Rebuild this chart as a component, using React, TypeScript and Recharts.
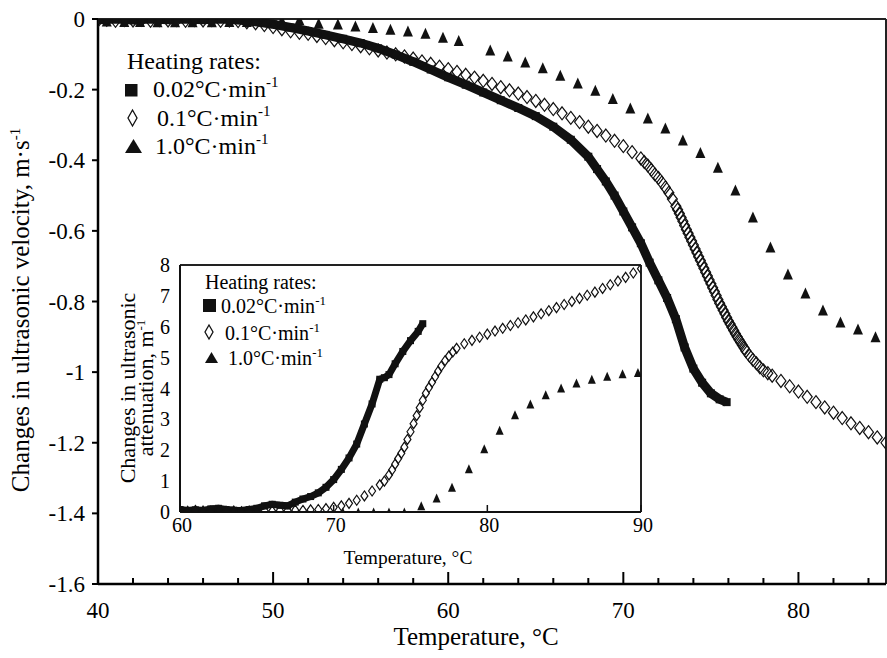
import React from 'react';
import { ScatterChart, Scatter, XAxis, YAxis, ReferenceLine } from 'recharts';

const FONT = "'Liberation Serif', 'Times New Roman', Times, serif";
const INK = '#111';

// ---------- Main chart: change in ultrasonic velocity (m/s) vs temperature (°C) ----------
const velocitySlow: [number, number][] = [
  [40, -0.002], [41, 0], [42, -0.003], [43, 0], [44, -0.002], [45, 0], [46, -0.002], [47, 0],
  [48, -0.003], [49, -0.008], [50, -0.015], [51, -0.024], [52, -0.034], [53, -0.045], [54, -0.056],
  [55, -0.068], [56, -0.083], [57, -0.101], [58, -0.121], [59, -0.143], [60, -0.165], [61, -0.186],
  [62, -0.208], [63, -0.23], [64, -0.252], [65, -0.275], [66, -0.305], [67, -0.342], [68, -0.39],
  [68.5, -0.425], [69, -0.46], [69.5, -0.5], [70, -0.545], [70.5, -0.59], [71, -0.635], [71.5, -0.69],
  [72, -0.74], [72.5, -0.79], [73, -0.85], [73.5, -0.93], [74, -0.99], [74.5, -1.03], [75, -1.06],
  [75.5, -1.077], [75.9, -1.085],
];

const velocityMid: [number, number][] = [
  [40, -0.004], [40.5, -0.002], [41, -0.005], [41.5, -0.003], [42, -0.004], [42.5, -0.002], [43, -0.005],
  [43.5, -0.003], [44, -0.004], [44.5, -0.003], [45, -0.005], [45.5, -0.003], [46, -0.004], [46.5, -0.003],
  [47, -0.005], [47.5, -0.004], [48, -0.006], [48.5, -0.009], [49, -0.012], [49.5, -0.017], [50, -0.023],
  [50.5, -0.029], [51, -0.035], [51.5, -0.039], [52, -0.042], [52.5, -0.048], [53, -0.054], [53.5, -0.06],
  [54, -0.066], [54.5, -0.071], [55, -0.077], [55.5, -0.083], [56, -0.089], [56.5, -0.095], [57, -0.1],
  [57.5, -0.106], [58, -0.112], [58.5, -0.12], [59, -0.127], [59.5, -0.135], [60, -0.142], [60.5, -0.15],
  [61, -0.158], [61.5, -0.166], [62, -0.175], [62.5, -0.184], [63, -0.193], [63.5, -0.202], [64, -0.211],
  [64.5, -0.221], [65, -0.232], [65.5, -0.243], [66, -0.255], [66.5, -0.267], [67, -0.28], [67.5, -0.292],
  [68, -0.305], [68.5, -0.317], [69, -0.33], [69.5, -0.345], [70, -0.36], [70.5, -0.377], [71, -0.395],
  [71.2, -0.405], [71.4, -0.415], [71.6, -0.427], [71.8, -0.44], [72, -0.45], [72.2, -0.463], [72.4, -0.477],
  [72.6, -0.492], [72.8, -0.51], [73, -0.53], [73.1, -0.54], [73.2, -0.551], [73.3, -0.562], [73.4, -0.573],
  [73.5, -0.585], [73.6, -0.596], [73.7, -0.607], [73.8, -0.618], [73.9, -0.629], [74, -0.64], [74.1, -0.651],
  [74.2, -0.662], [74.3, -0.673], [74.4, -0.684], [74.5, -0.695], [74.6, -0.706], [74.7, -0.717],
  [74.8, -0.728], [74.9, -0.739], [75, -0.75], [75.1, -0.761], [75.2, -0.772], [75.3, -0.783], [75.4, -0.794],
  [75.5, -0.805], [75.6, -0.815], [75.7, -0.825], [75.8, -0.835], [75.9, -0.845], [76, -0.855], [76.1, -0.864],
  [76.2, -0.873], [76.3, -0.882], [76.4, -0.891], [76.5, -0.9], [76.6, -0.908], [76.7, -0.916], [76.8, -0.924],
  [76.9, -0.932], [77, -0.94], [77.2, -0.953], [77.4, -0.965], [77.6, -0.975], [77.8, -0.986], [78, -0.995],
  [78.25, -1.003], [78.5, -1.01], [79, -1.025], [79.5, -1.04], [80, -1.055], [80.5, -1.07], [81, -1.085],
  [81.5, -1.1], [82, -1.115], [82.5, -1.13], [83, -1.145], [83.5, -1.158], [84, -1.17], [84.5, -1.185],
  [85, -1.2],
];

const velocityFast: [number, number][] = [
  [40.5, -0.006], [41.5, -0.007], [42.4, -0.007], [43.4, -0.008], [44.4, -0.008], [45.4, -0.008],
  [46.5, -0.008], [47.5, -0.007], [48.5, -0.007], [49.5, -0.006], [50.5, -0.004], [51.5, -0.002],
  [52.6, -0.012], [53.7, -0.014], [54.7, -0.02], [55.7, -0.024], [56.7, -0.029], [57.7, -0.034],
  [58.7, -0.04], [59.7, -0.052], [60.6, -0.061], [62.4, -0.088], [63.4, -0.105], [64.4, -0.122],
  [65.4, -0.138], [66.4, -0.159], [67.4, -0.181], [68.4, -0.202], [69.4, -0.225], [70.4, -0.252],
  [71.4, -0.28], [72.4, -0.309], [73.4, -0.343], [74.4, -0.378], [75.4, -0.42], [76.4, -0.484],
  [77.4, -0.561], [78.4, -0.646], [79.4, -0.722], [80.4, -0.776], [81.4, -0.824], [82.4, -0.858],
  [83.4, -0.878], [84.4, -0.9],
];

// ---------- Inset: change in ultrasonic attenuation (1/m) vs temperature (°C) ----------
const attenSlow: [number, number][] = [
  [60, 0.08], [60.5, 0.05], [61, 0.07], [61.5, 0.05], [62, 0.1], [62.5, 0.12], [63, 0.08], [63.5, 0.06],
  [64, 0.05], [64.5, 0.08], [65, 0.12], [65.5, 0.2], [66, 0.25], [66.5, 0.22], [67, 0.2], [67.5, 0.32],
  [68, 0.42], [68.5, 0.5], [69, 0.62], [69.5, 0.8], [70, 1.05], [70.5, 1.38], [71, 1.75], [71.5, 2.2],
  [72, 2.85], [72.5, 3.5], [73, 4.3], [73.3, 4.35], [73.6, 4.45], [74, 4.8], [74.5, 5.2], [75, 5.55],
  [75.5, 5.85], [75.8, 6.1],
];

const attenMid: [number, number][] = [
  [60, 0.04], [60.5, 0.02], [61, 0.05], [61.5, 0.03], [62, 0.02], [62.5, 0.04], [63, 0.02], [63.5, 0.03],
  [64, 0.01], [64.5, 0.03], [65, 0.02], [65.5, 0.04], [66, 0.03], [66.5, 0.05], [67, 0.04], [67.5, 0.06],
  [68, 0.05], [68.5, 0.07], [69, 0.08], [69.5, 0.11], [70, 0.15], [70.5, 0.2], [71, 0.28], [71.5, 0.38],
  [72, 0.52], [72.5, 0.68], [73, 0.88], [73.3, 1.0], [73.6, 1.2], [73.8, 1.36], [74, 1.55], [74.2, 1.73],
  [74.4, 1.9], [74.6, 2.1], [74.8, 2.35], [75, 2.6], [75.2, 2.86], [75.4, 3.12], [75.6, 3.38], [75.8, 3.62],
  [76, 3.85], [76.2, 4.03], [76.4, 4.2], [76.6, 4.38], [76.8, 4.56], [77, 4.72], [77.25, 4.9], [77.5, 5.05],
  [77.75, 5.18], [78, 5.3], [78.5, 5.45], [79, 5.56], [79.5, 5.66], [80, 5.76], [80.5, 5.86], [81, 5.95],
  [81.5, 6.04], [82, 6.13], [82.5, 6.22], [83, 6.32], [83.5, 6.42], [84, 6.52], [84.5, 6.62], [85, 6.72],
  [85.5, 6.82], [86, 6.92], [86.5, 7.02], [87, 7.12], [87.5, 7.24], [88, 7.36], [88.5, 7.48], [89, 7.6],
  [89.5, 7.74], [90, 7.88],
];

const attenFast: [number, number][] = [
  [70.6, 0], [71.6, 0], [72.6, 0], [73.6, 0], [74.6, 0], [75.7, 0.2], [76.7, 0.45], [77.7, 0.8],
  [78.8, 1.4], [79.8, 2.05], [80.8, 2.65], [81.8, 3.15], [82.8, 3.5], [83.8, 3.8], [84.8, 4.02],
  [85.8, 4.18], [86.8, 4.3], [87.8, 4.4], [88.8, 4.48], [89.8, 4.52],
];

// ---------- Ticks and text ----------
const mainXTicks = [40, 42, 44, 46, 48, 50, 52, 54, 56, 58, 60, 62, 64, 66, 68, 70, 72, 74, 76, 78, 80, 82, 84];
const mainYTicks = [0, -0.2, -0.4, -0.6, -0.8, -1, -1.2, -1.4, -1.6];
const insetXTicks = [60, 70, 80, 90];
const insetYTicks = [0, 1, 2, 3, 4, 5, 6, 7, 8];
const legendTitle = 'Heating rates:';
const rateLabels = ['0.02°C·min', '0.1°C·min', '1.0°C·min'];
const supMinus1 = '-1';
const tempTitle = 'Temperature, °C';
const velTitle = 'Changes in ultrasonic velocity, m·s';
const attTitle1 = 'Changes in ultrasonic';
const attTitle2 = 'attenuation, m';

const toPts = (a: [number, number][]) => a.map(([t, v]) => ({ t, v }));

const squareShape = (s: number) => (p: any) =>
  <rect x={p.cx - s / 2} y={p.cy - s / 2} width={s} height={s} fill={INK} />;
const diamondShape = (w: number, h: number, sw: number) => (p: any) =>
  <polygon
    points={`${p.cx},${p.cy - h / 2} ${p.cx + w / 2},${p.cy} ${p.cx},${p.cy + h / 2} ${p.cx - w / 2},${p.cy}`}
    fill="none" stroke={INK} strokeWidth={sw} />;
const triangleShape = (w: number, h: number) => (p: any) =>
  <polygon
    points={`${p.cx},${p.cy - h / 2} ${p.cx + w / 2},${p.cy + h / 2} ${p.cx - w / 2},${p.cy + h / 2}`}
    fill={INK} />;

const MainXTick = (props: any) => {
  const { x, y, payload } = props;
  const v = payload.value;
  const major = v % 10 === 0;
  return (
    <g>
      <line x1={x} x2={x} y1={y} y2={y - (major ? 12 : 6)} stroke="#000" strokeWidth={2} />
      {major ? (
        <text x={x} y={y + 34} textAnchor="middle" fontSize={23} style={{ fontFamily: FONT }} fill="#000">{v}</text>
      ) : null}
    </g>
  );
};

const MainYTick = (props: any) => {
  const { x, y, payload } = props;
  return (
    <text x={x} y={y + 8} textAnchor="end" fontSize={23} style={{ fontFamily: FONT }} fill="#000">{payload.value}</text>
  );
};

const InsetXTick = (props: any) => {
  const { x, y, payload } = props;
  return (
    <g>
      <line x1={x} x2={x} y1={y} y2={y - 7} stroke="#111" strokeWidth={1.5} />
      <text x={x + 2} y={y + 20} textAnchor="middle" fontSize={20} style={{ fontFamily: FONT }} fill="#000">{payload.value}</text>
    </g>
  );
};

const InsetYTick = (props: any) => {
  const { x, y, payload } = props;
  return (
    <text x={x} y={y + 7} textAnchor="end" fontSize={20} style={{ fontFamily: FONT }} fill="#000">{payload.value}</text>
  );
};

const MainXTitle = () => (
  <text x={476} y={645} textAnchor="middle" fontSize={25} style={{ fontFamily: FONT }} fill="#000">{tempTitle}</text>
);
const MainYTitle = () => (
  <text x={29} y={310} transform="rotate(-90, 29, 310)" textAnchor="middle" fontSize={25} style={{ fontFamily: FONT }} fill="#000">
    {velTitle}<tspan dy={-9} fontSize={15}>{supMinus1}</tspan>
  </text>
);
// inset coordinates are relative to the inset chart (left 100, top 255)
const InsetXTitle = () => (
  <text x={308} y={309} textAnchor="middle" fontSize={19.5} style={{ fontFamily: FONT }} fill="#000">{tempTitle}</text>
);
const InsetYTitle = () => (
  <g>
    <text x={35} y={133} transform="rotate(-90, 35, 133)" textAnchor="middle" fontSize={22} style={{ fontFamily: FONT }} fill="#000">
      {attTitle1}
    </text>
    <text x={53} y={133} transform="rotate(-90, 53, 133)" textAnchor="middle" fontSize={22} style={{ fontFamily: FONT }} fill="#000">
      {attTitle2}<tspan dy={-8} fontSize={13}>{supMinus1}</tspan>
    </text>
  </g>
);

const Legends = () => (
  <svg width={887} height={658} style={{ position: 'absolute', left: 0, top: 0, pointerEvents: 'none' }}>
    <g style={{ fontFamily: FONT }} fill="#000">
      {/* main legend */}
      <text x={127} y={69} fontSize={24}>{legendTitle}</text>
      <rect x={125} y={84} width={12.5} height={12.5} fill={INK} />
      <text x={153} y={97} fontSize={24}>{rateLabels[0]}<tspan dy={-10} fontSize={15}>{supMinus1}</tspan></text>
      <polygon points="132.5,110 137,118 132.5,126 128,118" fill="none" stroke={INK} strokeWidth={1.3} />
      <text x={157} y={126} fontSize={24}>{rateLabels[1]}<tspan dy={-10} fontSize={15}>{supMinus1}</tspan></text>
      <polygon points="133.5,139 142,153 125,153" fill={INK} />
      <text x={155} y={154} fontSize={24}>{rateLabels[2]}<tspan dy={-10} fontSize={15}>{supMinus1}</tspan></text>

      {/* inset legend */}
      <text x={205} y={289} fontSize={20}>{legendTitle}</text>
      <rect x={203} y={299} width={13} height={13} fill={INK} />
      <text x={221} y={313} fontSize={20}>{rateLabels[0]}<tspan dy={-8} fontSize={13}>{supMinus1}</tspan></text>
      <polygon points="209,325 213,332 209,339 205,332" fill="none" stroke={INK} strokeWidth={1.3} />
      <text x={225} y={340} fontSize={20}>{rateLabels[1]}<tspan dy={-8} fontSize={13}>{supMinus1}</tspan></text>
      <polygon points="211.5,352 218,363 205,363" fill={INK} />
      <text x={228} y={365} fontSize={20}>{rateLabels[2]}<tspan dy={-8} fontSize={13}>{supMinus1}</tspan></text>
    </g>
  </svg>
);

export default function App() {
  return (
    <div style={{ position: 'absolute', left: 0, top: 0, width: 887, height: 658, background: '#fff', fontFamily: FONT }}>
      <div style={{ position: 'absolute', left: 0, top: 0 }}>
        <ScatterChart width={887} height={658} margin={{ top: 19, right: 1, bottom: 0, left: 38 }} style={{ fontFamily: FONT }}>
          <XAxis
            type="number" dataKey="t" domain={[40, 85]} ticks={mainXTicks} interval={0}
            allowDataOverflow height={74} tickSize={0} tickMargin={0} tickLine={false}
            tick={<MainXTick />} axisLine={{ stroke: '#000', strokeWidth: 2.5 }}
            label={{ content: () => <MainXTitle /> }}
          />
          <YAxis
            type="number" dataKey="v" domain={[-1.6, 0]} ticks={mainYTicks} interval={0}
            allowDataOverflow width={60} tickSize={6} tickMargin={7}
            tick={<MainYTick />}
            tickLine={{ stroke: '#000', strokeWidth: 2 }}
            axisLine={{ stroke: '#000', strokeWidth: 2.5 }}
            label={{ content: () => <MainYTitle /> }}
          />
          <ReferenceLine y={0} stroke="#222" strokeWidth={2} />
          <ReferenceLine x={85} stroke="#222" strokeWidth={2} />
          <Scatter data={toPts(velocityFast)} shape={triangleShape(10, 11)} isAnimationActive={false} />
          <Scatter data={toPts(velocitySlow)} shape={squareShape(8)} line={{ stroke: INK, strokeWidth: 9 }}
            isAnimationActive={false} />
          <Scatter data={toPts(velocityMid)} shape={diamondShape(10, 13, 1.2)} isAnimationActive={false} />
        </ScatterChart>
      </div>
      <div style={{ position: 'absolute', left: 100, top: 255 }}>
        <ScatterChart width={570} height={320} margin={{ top: 10, right: 29, bottom: 0, left: 0 }} style={{ fontFamily: FONT }}>
          <XAxis
            type="number" dataKey="t" domain={[60, 90]} ticks={insetXTicks} interval={0}
            allowDataOverflow height={63} tickSize={0} tickMargin={0} tickLine={false}
            tick={<InsetXTick />} axisLine={{ stroke: '#111', strokeWidth: 2 }}
            label={{ content: () => <InsetXTitle /> }}
          />
          <YAxis
            type="number" dataKey="v" domain={[0, 8]} ticks={insetYTicks} interval={0}
            allowDataOverflow width={80} tickSize={0} tickMargin={10} tickLine={false}
            tick={<InsetYTick />}
            axisLine={{ stroke: '#111', strokeWidth: 2 }}
            label={{ content: () => <InsetYTitle /> }}
          />
          <ReferenceLine y={8} stroke="#222" strokeWidth={2} />
          <ReferenceLine x={90} stroke="#222" strokeWidth={2} />
          <Scatter data={toPts(attenFast)} shape={triangleShape(8, 9)} isAnimationActive={false} />
          <Scatter data={toPts(attenSlow)} shape={squareShape(7)} line={{ stroke: INK, strokeWidth: 7 }}
            isAnimationActive={false} />
          <Scatter data={toPts(attenMid)} shape={diamondShape(7, 10, 1.2)} isAnimationActive={false} />
        </ScatterChart>
      </div>
      <Legends />
    </div>
  );
}
